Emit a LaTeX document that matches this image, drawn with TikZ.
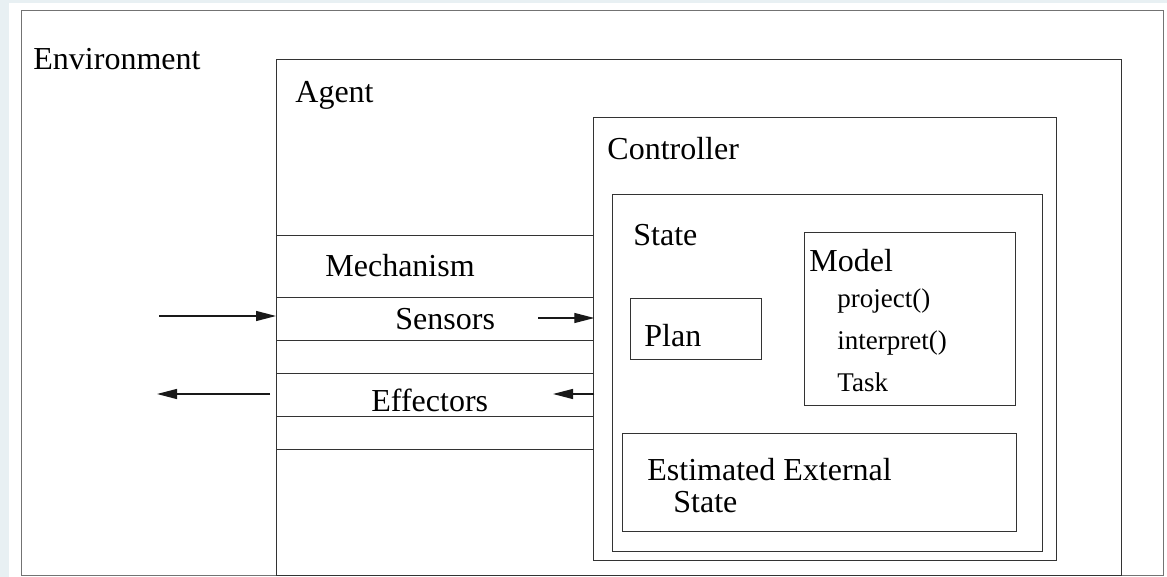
\documentclass[tikz,border=0pt]{standalone}
\usepackage{fontspec}
\setmainfont{Liberation Serif}
\newfontfamily\diagfont{Liberation Serif}
\usepackage{tikz}
\usetikzlibrary{arrows.meta, positioning}

\definecolor{pagebg}{HTML}{E8F0F3}

\begin{document}
\begin{tikzpicture}[
    x=0.5pt, y=-0.5pt,
    every node/.style={font=\diagfont\fontsize{16}{19}\selectfont},
    box/.style={rectangle, draw=black!80, line width=0.65pt, anchor=north west, inner sep=0pt},
    outerbox/.style={box, draw=black!55},
    tag/.style={anchor=base west, inner sep=0pt},
    small/.style={tag, font=\diagfont\fontsize{13.5}{16}\selectfont},
    arrow/.style={-{Triangle[length=10pt, width=5pt]}, line width=0.6pt, black!90}
]

% page and frame
\fill[pagebg] (0,0) rectangle (1167,577);
\fill[white] (9,3) rectangle (1167,577);
\useasboundingbox (0,0) rectangle (1167,577);

% nested boxes
\node[outerbox, minimum width=571pt, minimum height=282.5pt] (env) at (21,10) {};
\node[box, minimum width=422.5pt, minimum height=258pt] (agent) at (276,59) {};
\node[box, minimum width=231.5pt, minimum height=221.5pt] (controller) at (593,117) {};
\node[box, minimum width=215pt, minimum height=178.5pt] (state) at (612,194) {};
\node[box, minimum width=105.5pt, minimum height=86.5pt] (model) at (804,232) {};
\node[box, minimum width=65.5pt, minimum height=30.5pt] (plan) at (630,298) {};
\node[box, minimum width=197pt, minimum height=49pt] (estimated) at (622,433) {};

% mechanism strip
\node[box, minimum width=158.5pt, minimum height=107pt] (mechanism) at (276,235) {};
\node[box, minimum width=158.5pt, minimum height=21.5pt] (sensors) at (276,297) {};
\node[box, minimum width=158.5pt, minimum height=21.5pt] (effectors) at (276,373) {};

% labels
\node[tag] (envlabel) at (33,70) {Environment};
\node[tag] (agentlabel) at (295,103) {Agent};
\node[tag] (ctrllabel) at (607,160) {Controller};
\node[tag] (mechlabel) at (325,277) {Mechanism};
\node[tag] (senslabel) at (395,329) {Sensors};
\node[tag] (efflabel) at (371,411) {Effectors};
\node[tag] (statelabel) at (633,246) {State};
\node[tag] (planlabel) at (644,346) {Plan};
\node[tag] (modellabel) at (809,271) {Model};
\node[small] (project) at (837,307) {project()};
\node[small] (interpret) at (837,350) {interpret()};
\node[small] (task) at (837,391) {Task};
\node[tag] (estlabel) at (647,480) {Estimated External};
\node[tag] (estlabel2) at (673,512) {State};

% arrows
\coordinate (percept) at (159,316);
\coordinate (sensin) at (538,318);
\coordinate (effin) at (553,394);
\coordinate (action) at (157,394);

\draw[arrow] (percept) -- (percept -| sensors.west);
\draw[arrow] (sensin) -- (sensin -| sensors.east);
\draw[arrow] (effin -| effectors.east) -- (effin);
\draw[arrow, shorten <=3pt] (action -| effectors.west) -- (action);

\end{tikzpicture}
\end{document}
